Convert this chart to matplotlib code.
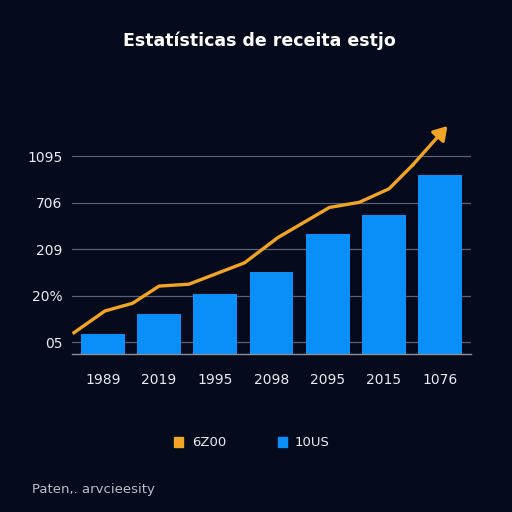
import matplotlib.pyplot as plt

# dados do gráfico
categories = ['1989', '2019', '1995', '2098', '2095', '2015', '1076']
bar_values = [0.42, 0.87, 1.30, 1.77, 2.59, 2.98, 3.84]

# linha laranja (posição x em unidades de categoria, y no mesmo eixo)
line_x = [-0.515, 0.036, 0.528, 1.0, 1.53, 2.52, 3.11, 4.03, 4.56, 5.09, 5.51]
line_y = [0.458, 0.925, 1.09, 1.46, 1.50, 1.96, 2.50, 3.15, 3.26, 3.55, 4.06]
arrow_tip = (6.13, 4.90)

ytick_pos = [0.25, 1.25, 2.25, 3.25, 4.25]
ytick_labels = ['05', '20%', '209', '706', '1095']

legend_labels = ['6Z00', '10US']

bg = '#050b1c'
blue = '#0a8ef8'
orange = '#f2a425'

fig = plt.figure(figsize=(5.12, 5.12), dpi=100, facecolor=bg)
ax = fig.add_axes([0.1406, 0.3086, 0.7794, 0.4634], facecolor=bg)

x = list(range(len(categories)))
ax.bar(x, bar_values, width=0.78, color=blue, zorder=2)
ax.plot(line_x, line_y, color=orange, lw=2.4, solid_joinstyle='round', zorder=3)
ax.annotate('', xy=arrow_tip, xytext=(line_x[-1], line_y[-1]),
            arrowprops=dict(arrowstyle='-|>,head_length=0.8,head_width=0.5',
                            color=orange, lw=2.4, shrinkA=0, shrinkB=0), zorder=3)

ax.set_xlim(-0.55, 6.55)
ax.set_ylim(0, 5.1)
ax.set_yticks(ytick_pos)
ax.set_yticklabels(ytick_labels)
ax.set_xticks(x)
ax.set_xticklabels(categories)
ax.tick_params(axis='both', length=0, colors='#e8ecf2', labelsize=10)
ax.tick_params(axis='y', pad=7)
ax.tick_params(axis='x', pad=14)
ax.grid(axis='y', color='#5b6272', lw=0.9, zorder=0)
for s in ['top', 'right', 'left']:
    ax.spines[s].set_visible(False)
ax.spines['bottom'].set_color('#8a909c')
ax.spines['bottom'].set_linewidth(1.0)

fig.text(0.506, 0.921, 'Estatísticas de receita estjo', color='white',
         fontsize=12.5, fontweight='bold', ha='center', va='center')

# legenda
fig.patches.append(plt.Rectangle((0.339, 0.127), 0.019, 0.019, color=orange,
                                 transform=fig.transFigure, figure=fig))
fig.text(0.375, 0.136, legend_labels[0], color='#e8ecf2', fontsize=9.5, va='center')
fig.patches.append(plt.Rectangle((0.542, 0.127), 0.019, 0.019, color=blue,
                                 transform=fig.transFigure, figure=fig))
fig.text(0.576, 0.136, legend_labels[1], color='#e8ecf2', fontsize=9.5, va='center')

fig.text(0.062, 0.043, 'Paten,. arvcieesity', color='#b8bec8', fontsize=9.5, va='center')

fig.savefig('out.png', dpi=100, facecolor=bg)
